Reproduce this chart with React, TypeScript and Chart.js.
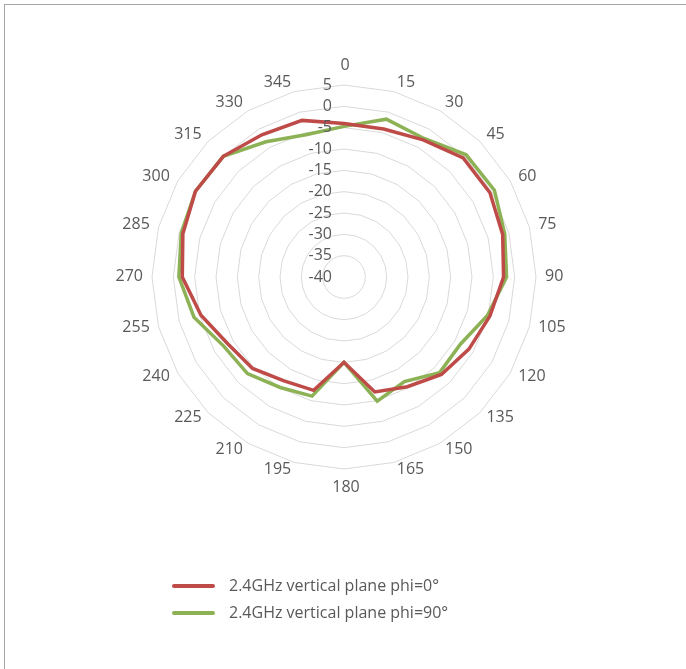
import React, { useEffect, useRef } from "react";
import { Chart, registerables } from "chart.js";

Chart.register(...registerables);

// ---- data ----
const angleLabels = [
  "0", "15", "30", "45", "60", "75", "90", "105", "120", "135", "150", "165",
  "180", "195", "210", "225", "240", "255", "270", "285", "300", "315", "330", "345",
];
const phi0Values = [
  -4.0, -4.1, -2.9, -0.5, -0.5, -1.5, -2.6, -4.6, -6.2, -7.7, -10.3, -12.1,
  -20.0, -12.5, -11.9, -9.7, -8.6, -5.3, -2.1, -0.9, 0.2, 0.0, -1.5, -2.0,
];
const phi90Values = [
  -4.7, -1.7, -2.5, 0.5, 0.7, -1.0, -1.9, -5.2, -8.5, -8.3, -11.7, -9.9,
  -20.0, -11.1, -10.1, -8.0, -7.5, -3.6, -1.3, -0.5, 0.2, 0.0, -3.4, -5.5,
];
const seriesNames = ["2.4GHz vertical plane phi=0°", "2.4GHz vertical plane phi=90°"];
const seriesColors = ["#BE4B48", "#8DB255"];
const axisMin = -40;
const axisMax = 5;
const axisStep = 5;

const FONT = "'Open Sans', 'Noto Sans', sans-serif";
const TEXT_COLOR = "#595959";

// Tick labels right-aligned just left of the vertical axis, including the -40 at the centre
const tickLabelPlugin = {
  id: "tickLabelsRight",
  afterDatasetsDraw(chart: any) {
    const scale = chart.scales.r;
    const ctx = chart.ctx;
    ctx.save();
    ctx.font = `16px ${FONT}`;
    ctx.fillStyle = TEXT_COLOR;
    ctx.textAlign = "right";
    ctx.textBaseline = "middle";
    scale.ticks.forEach((t: any) => {
      const d = scale.getDistanceFromCenterForValue(t.value);
      ctx.fillText(String(t.value), scale.xCenter - 12, scale.yCenter - d);
    });
    ctx.restore();
  },
};

// Category labels: anchored at the side of the text nearest to the chart
const pointLabelPlugin = {
  id: "sidePointLabels",
  afterDraw(chart: any) {
    const scale = chart.scales.r;
    const ctx = chart.ctx;
    const labels: string[] = chart.data.labels;
    const n = labels.length;
    ctx.save();
    ctx.font = `16px ${FONT}`;
    ctx.fillStyle = TEXT_COLOR;
    ctx.textBaseline = "middle";
    labels.forEach((lab, i) => {
      const deg = (i * 360) / n;
      const p = scale.getPointPosition(i, scale.drawingArea + 8);
      if (deg === 0) {
        ctx.textAlign = "center";
        ctx.fillText(lab, p.x + 1, p.y - 12);
      } else if (deg === 180) {
        ctx.textAlign = "center";
        ctx.fillText(lab, p.x + 2, p.y + 10);
      } else if (deg < 180) {
        ctx.textAlign = "left";
        ctx.fillText(lab, p.x + 1, p.y - 1);
      } else {
        ctx.textAlign = "right";
        ctx.fillText(lab, p.x - 1, p.y - 1);
      }
    });
    ctx.restore();
  },
};

const legendPlugin = {
  id: "stackedLegend",
  afterDraw(chart: any) {
    const ctx = chart.ctx;
    const x0 = 172;
    const y0 = 586;
    const gap = 27;
    ctx.save();
    ctx.font = `16px ${FONT}`;
    ctx.textAlign = "left";
    ctx.textBaseline = "middle";
    chart.data.datasets.forEach((ds: any, i: number) => {
      const y = y0 + i * gap;
      ctx.strokeStyle = ds.borderColor;
      ctx.lineWidth = 4;
      ctx.lineCap = "round";
      ctx.beginPath();
      ctx.moveTo(x0 + 2, y);
      ctx.lineTo(x0 + 41, y);
      ctx.stroke();
      ctx.fillStyle = TEXT_COLOR;
      ctx.fillText(ds.label, x0 + 57, y);
    });
    ctx.restore();
  },
};

export default function App() {
  const canvasRef = useRef<HTMLCanvasElement | null>(null);

  useEffect(() => {
    const canvas = canvasRef.current;
    if (!canvas) return;
    const chart = new Chart(canvas, {
      type: "radar",
      data: {
        labels: angleLabels,
        datasets: [
          {
            label: seriesNames[0],
            data: phi0Values,
            borderColor: seriesColors[0],
            backgroundColor: "transparent",
            borderWidth: 3.5,
            pointRadius: 0,
            pointHoverRadius: 0,
            fill: false,
          },
          {
            label: seriesNames[1],
            data: phi90Values,
            borderColor: seriesColors[1],
            backgroundColor: "transparent",
            borderWidth: 3.5,
            pointRadius: 0,
            pointHoverRadius: 0,
            fill: false,
          },
        ],
      },
      options: {
        responsive: false,
        animation: false,
        devicePixelRatio: 1,
        layout: { padding: { top: 85, left: 152, right: 150, bottom: 200 } },
        plugins: {
          legend: { display: false },
          tooltip: { enabled: false },
        },
        elements: { line: { tension: 0 } },
        scales: {
          r: {
            min: axisMin,
            max: axisMax,
            beginAtZero: false,
            angleLines: { display: false },
            grid: { color: "#d9d9d9", lineWidth: 1 },
            ticks: { display: false, stepSize: axisStep },
            pointLabels: { display: false },
          },
        },
      },
      plugins: [tickLabelPlugin, pointLabelPlugin, legendPlugin],
    });
    return () => chart.destroy();
  }, []);

  return (
    <div style={{ position: "absolute", left: 0, top: 0, width: 686, height: 669 }}>
      <div
        style={{
          position: "absolute",
          left: 4,
          top: 4,
          width: 682,
          height: 665,
          borderTop: "1px solid #a6a6a6",
          borderLeft: "1px solid #a6a6a6",
          boxSizing: "border-box",
        }}
      />
      <canvas
        ref={canvasRef}
        width={686}
        height={669}
        style={{ position: "absolute", left: 0, top: 0, display: "block" }}
      />
    </div>
  );
}
